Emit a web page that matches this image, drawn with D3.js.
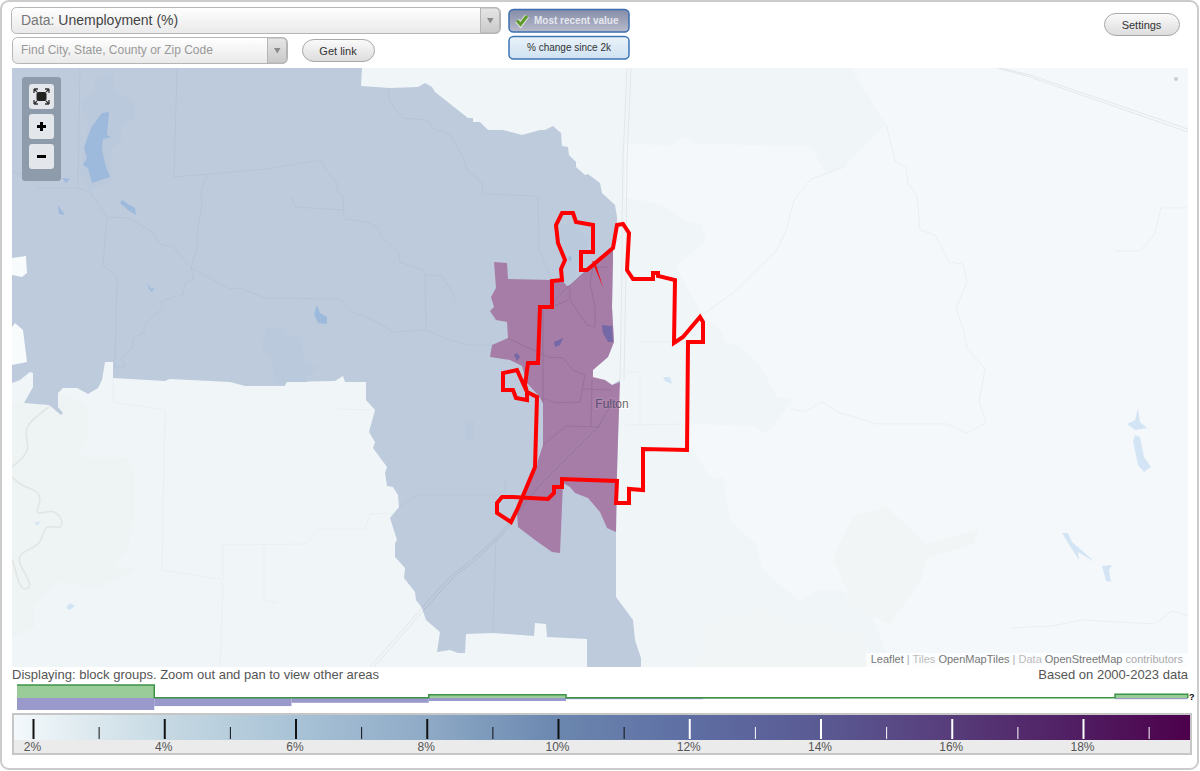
<!DOCTYPE html>
<html>
<head>
<meta charset="utf-8">
<title>Unemployment (%)</title>
<script src="https://cdn.jsdelivr.net/npm/d3@7"></script>
<style>
  html, body { margin: 0; padding: 0; background: #fff; overflow: hidden; }
  svg { display: block; font-family: "Liberation Sans", Arial, sans-serif; }
  .axis-scale .domain { display: none; }
</style>
</head>
<body>
<svg id="chart" width="1200" height="771"></svg>
<script>
// legend: value scale and colour ramp
const majorTicks = [2, 4, 6, 8, 10, 12, 14, 16, 18];
const minorTicks = [3, 5, 7, 9, 11, 13, 15, 17, 19];
const rampValues = [1.7, 2, 4, 6, 8, 10, 12, 14, 16, 18, 19.65];
const rampColors = ["#f3f8fb", "#eef5f8", "#c6d9e3", "#a8c2d6", "#8eaac6", "#6b87af", "#5e6ea3", "#5a5a93", "#573c7a", "#501c61", "#4d004b"];

// distribution strip above the legend (share of areas per bin)
const binEdges = [0, 1, 2, 3, 4, 5, 6, 7, 8, 8.53];
const selectedShare = [43, 1, 1, 11, 1, 1, 1, 1, 12];
const nationalShare = [40, 27, 16, 10, 4, 2, 0, 0, 4];

// map shapes, in map pixel units
const blockGroups = [[362,68],[361,86],[390,88],[418,87],[425,83],[432,87],[435,92],[468,118],[473,118],[473,122],[480,122],[488,130],[503,130],[522,135],[540,130],[545,130],[553,126],[561,133],[562,146],[568,147],[569,155],[576,162],[576,167],[585,175],[588,174],[600,183],[602,193],[615,205],[617,217],[617,227],[613,248],[613,260],[612,307],[614,342],[608,357],[593,370],[592,378],[605,380],[612,385],[620,380],[619,390],[617,480],[616,532],[616,597],[633,620],[635,640],[641,658],[641,667],[587,667],[587,639],[547,637],[546,624],[535,623],[534,636],[493,633],[466,634],[465,653],[458,653],[450,650],[437,652],[440,632],[426,620],[422,608],[416,600],[415,592],[404,578],[405,568],[395,557],[395,543],[397,540],[390,518],[399,507],[398,495],[393,487],[387,486],[385,473],[387,467],[373,448],[375,442],[369,432],[375,410],[366,400],[366,382],[345,382],[343,376],[335,381],[285,382],[285,386],[245,386],[230,382],[170,379],[165,381],[113,378],[113,362],[105,362],[102,380],[98,388],[88,394],[77,388],[63,388],[58,393],[58,407],[63,413],[61,415],[49,405],[24,403],[33,387],[33,373],[30,372],[20,380],[12,383],[12,365],[27,362],[23,330],[15,323],[12,327],[12,275],[22,277],[27,273],[26,256],[12,258],[12,68]];
const highlighted = [[613,246],[570,285],[567,286],[562,280],[552,280],[508,279],[507,263],[494,262],[496,288],[491,297],[494,307],[490,311],[496,320],[507,322],[508,338],[492,345],[490,357],[510,360],[522,366],[527,383],[538,395],[543,403],[543,445],[538,460],[537,467],[522,495],[517,513],[518,527],[535,540],[552,552],[560,553],[563,483],[570,487],[575,493],[588,498],[600,512],[607,528],[616,532],[617,470],[620,382],[612,385],[605,380],[593,377],[593,370],[608,357],[614,342],[612,307],[613,260]];
const cityOutline = [[562,213],[573,213],[576,222],[593,225],[593,252],[581,252],[581,270],[587,270],[613,248],[617,225],[623,224],[629,233],[627,270],[633,279],[653,279],[653,273],[658,273],[658,276],[675,280],[674,343],[683,337],[700,317],[703,322],[703,342],[688,342],[687,450],[643,449],[643,490],[629,489],[629,503],[616,503],[617,481],[562,479],[562,487],[554,487],[554,493],[548,499],[513,497],[502,497],[497,503],[497,513],[511,522],[517,510],[535,467],[537,397],[527,392],[527,400],[516,398],[513,390],[503,390],[503,373],[517,370],[527,392],[525,385],[528,363],[538,363],[540,307],[552,307],[552,281],[562,280],[561,269],[565,260],[558,243],[556,225],[562,213]];
const citySpike = [[592,261],[603,287],[595,262]];

const tintAreas = [
  [[12,68],[625,68],[625,667],[12,667]],
  [[620,68],[851,68],[886,124],[844,167],[826,175],[811,146],[697,144],[683,136],[672,146],[640,144],[620,144]],
  [[620,197],[640,200],[665,206],[683,220],[702,225],[706,241],[676,266],[702,315],[722,332],[724,342],[740,346],[761,367],[777,397],[794,399],[786,408],[774,426],[765,434],[754,426],[686,424],[620,424]],
  [[620,424],[686,424],[688,443],[711,478],[724,478],[726,500],[731,521],[756,544],[763,570],[799,601],[819,589],[844,591],[854,609],[872,616],[886,651],[897,667],[620,667]]
];
const paleNotches = [
  [[12,258],[26,256],[27,273],[22,277],[12,275]],
  [[12,327],[15,323],[23,330],[27,362],[12,365]]
];
const forestAreas = [
  [[58,393],[87,405],[88,440],[77,457],[127,458],[135,473],[135,513],[128,547],[115,565],[135,570],[97,588],[55,582],[35,607],[35,627],[12,637],[12,403]],
  [[854,515],[886,507],[926,544],[979,529],[974,544],[926,558],[922,578],[890,624],[854,609],[833,558]],
  [[708,624],[761,609],[794,624],[833,628],[861,630],[872,667],[697,667]]
];
const urbanPatches = [
  [[265,327],[283,327],[285,335],[300,337],[305,363],[318,367],[308,375],[307,382],[287,382],[285,385],[275,382],[272,357],[262,350],[262,340],[267,335]],
  [[82,100],[97,90],[93,80],[113,73],[115,93],[135,102],[135,118],[122,127],[122,140],[112,148],[110,157],[112,180],[90,190],[80,173],[88,123],[82,110]],
  [[465,420],[475,420],[475,440],[465,440]],
  [[560,225],[572,222],[578,232],[590,237],[585,250],[578,260],[575,275],[568,285],[562,278],[562,262],[566,250],[560,235]]
];
const lakesOnBlue = [
  [[102,113],[109,112],[107,135],[111,137],[103,139],[102,150],[106,167],[110,177],[92,183],[88,168],[83,165],[87,158],[84,148],[91,128],[98,118]],
  [[62,178],[70,179],[66,183]],
  [[122,200],[128,204],[135,208],[136,215],[128,210],[120,203]],
  [[58,205],[65,215],[59,214]],
  [[147,283],[151,289],[155,287],[152,291],[153,293],[149,289]],
  [[317,305],[320,313],[327,317],[327,324],[318,323],[314,314]],
  [[570,255],[572,259],[570,262],[568,258]]
];
const lakesOnHighlight = [
  [[602,325],[612,326],[613,342],[608,342],[603,333]],
  [[554,342],[563,338],[560,345],[555,347]],
  [[514,355],[517,353],[520,357],[517,361]]
];
const lakesOnBase = [
  [[1138,408],[1140,422],[1147,428],[1135,430],[1127,424],[1135,420]],
  [[1135,435],[1140,437],[1144,457],[1151,467],[1144,472],[1138,465],[1133,441]],
  [[1062,533],[1068,533],[1072,542],[1095,562],[1078,552],[1079,560],[1070,546]],
  [[1102,566],[1112,565],[1109,570],[1111,582],[1106,581]],
  [[663,377],[670,377],[672,384],[665,381]],
  [[70,603],[75,606],[70,610],[66,608]],
  [[34,523],[40,521],[38,526]]
];
const blueBoundaries = [
  [[177,68],[174,177],[208,174],[268,169],[313,161],[321,161],[330,175],[337,183],[337,192],[343,195],[344,219],[367,222],[377,227],[382,237],[398,252],[400,262],[423,270],[425,275],[442,276],[451,290],[455,302]],
  [[425,275],[426,330],[450,340],[470,345],[492,345]],
  [[208,174],[203,185],[201,192],[202,203],[197,233],[197,247],[191,268],[194,279],[185,283],[183,295],[173,297],[160,302],[163,308],[152,317],[144,325],[144,333],[133,338],[133,347],[122,358],[125,367],[113,367]],
  [[90,192],[107,217],[128,218],[153,232],[160,244],[173,247],[191,268],[213,280],[230,289],[240,288],[265,298],[340,299],[353,312],[377,322],[393,332],[425,330]],
  [[107,217],[103,265],[117,277],[115,367]],
  [[292,197],[295,207],[343,210]],
  [[388,88],[390,102],[403,118],[427,120],[433,128],[450,135],[463,157],[467,170],[482,182],[483,194],[538,196],[539,250],[552,280]],
  [[80,68],[78,188],[37,188],[37,177],[12,172]],
  [[78,188],[90,192]],
  [[399,507],[417,495],[497,495],[505,490],[505,480]],
  [[496,538],[493,633]]
];
const highlightBoundaries = [
  [[570,287],[570,300],[587,325],[595,327],[595,307],[590,283],[593,267],[607,267]],
  [[568,300],[552,307]],
  [[508,338],[537,352],[548,357],[563,358],[573,370],[585,375],[582,390],[580,402],[555,403],[543,398]],
  [[582,389],[612,390]],
  [[543,445],[566,426],[600,427]],
  [[592,380],[591,427]],
  [[543,310],[543,403]]
];
const faintBoundaries = [
  [[113,378],[113,402],[165,410],[162,570],[220,579],[223,585],[220,667]],
  [[223,580],[223,545],[305,544],[320,529],[365,529],[370,514],[395,513]],
  [[264,545],[264,600],[277,603]],
  [[338,409],[372,410]],
  [[886,124],[895,161],[906,167],[908,183],[917,196],[920,230],[935,235],[949,262],[963,264],[967,282],[956,309],[963,328],[967,348],[985,369],[979,402],[986,423],[967,433],[947,424],[876,424],[838,412],[822,402],[804,412],[790,408]],
  [[702,315],[733,293],[776,251],[786,231],[794,200],[811,179],[844,167]],
  [[1011,628],[1051,626],[1083,620],[1154,624],[1172,611],[1188,616]],
  [[1115,251],[1140,251],[1154,235],[1161,208],[1188,208]],
  [[625,425],[686,424]],
  [[640,342],[690,342]],
  [[627,372],[640,372],[640,424]]
];
const riverCourses = [
  [[49,407],[20,428],[33,450],[12,467]],
  [[12,477],[23,487],[37,490],[42,500],[33,517],[53,508],[63,520],[62,530],[43,523],[43,545],[20,552],[17,563],[35,587],[20,592],[15,567],[12,560]]
];
const railMain = [
  [[370,667],[422,608],[435,593],[452,575],[468,563],[497,537],[510,522],[538,487],[598,427],[614,400]],
  [[374,667],[426,608],[439,593],[456,575],[472,563],[500,537],[513,522]]
];
const railOther = [
  [[627,68],[623,160],[622,240],[622,267],[620,380]],
  [[631,68],[627,160],[626,240],[626,267],[624,380]],
  [[997,68],[1027,76],[1188,132]],
  [[1000,68],[1030,75],[1188,129]],
  [[625,232],[613,246]]
];
const railTown = [[[613,246],[570,285],[545,310]]];

const svg = d3.select("#chart");
const defs = svg.append("defs");

function vGradient(id, top, bottom) {
  const g = defs.append("linearGradient").attr("id", id).attr("x1", 0).attr("x2", 0).attr("y1", 0).attr("y2", 1);
  g.append("stop").attr("offset", "0%").attr("stop-color", top);
  g.append("stop").attr("offset", "100%").attr("stop-color", bottom);
}
vGradient("gSelect", "#ffffff", "#e9e9e9");
vGradient("gArrow", "#e6e6e6", "#c9c9c9");
vGradient("gPill", "#fbfbfb", "#dcdcdc");
vGradient("gActive", "#858ca8", "#b8bbcb");
vGradient("gToggle", "#eaf2f9", "#cfe2f2");

// page frame
svg.append("rect").attr("x", 1).attr("y", 1).attr("width", 1197).attr("height", 768)
  .attr("rx", 8).attr("fill", "#fff").attr("stroke", "#cccccc").attr("stroke-width", 2);

// ---- map ----
const mapW = 1176, mapH = 599;
const xMap = d3.scaleLinear().domain([12, 1188]).range([0, mapW]);
const yMap = d3.scaleLinear().domain([68, 667]).range([0, mapH]);
const shape = d3.line().x((d) => xMap(d[0])).y((d) => yMap(d[1]));
const smooth = d3.line().x((d) => xMap(d[0])).y((d) => yMap(d[1])).curve(d3.curveBasis);
const closed = (pts) => shape(pts) + "Z";

defs.append("clipPath").attr("id", "mapClip").append("rect").attr("width", mapW).attr("height", mapH);
defs.append("clipPath").attr("id", "hlClip").append("path").attr("d", closed(highlighted));
defs.append("clipPath").attr("id", "blueClip").append("path").attr("d", closed(blockGroups));
const map = svg.append("g").attr("transform", "translate(12,68)").attr("clip-path", "url(#mapClip)");

function fills(data, color) {
  return map.append("g").selectAll("path").data(data).join("path").attr("d", closed).attr("fill", color);
}
function strokes(data, color, width, clip) {
  const g = map.append("g");
  if (clip) g.attr("clip-path", `url(#${clip})`);
  g.selectAll("path").data(data).join("path").attr("d", shape)
    .attr("fill", "none").attr("stroke", color).attr("stroke-width", width).attr("stroke-linejoin", "round");
}

map.append("rect").attr("width", mapW).attr("height", mapH).attr("fill", "#f5f8fa");
fills(tintAreas, "#f0f5f8");
fills(paleNotches, "#f8fbfc");
fills(forestAreas.slice(0, 1), "#eef4f3");
fills(forestAreas.slice(1), "#f1f5f5");
strokes(faintBoundaries, "#e9eff2", 1);
map.append("g").selectAll("path").data(riverCourses).join("path").attr("d", smooth)
  .attr("fill", "none").attr("stroke", "#e0e5e5").attr("stroke-width", 1.6);
fills(lakesOnBase, "#d3e5f4");
map.append("circle").attr("cx", xMap(1176)).attr("cy", yMap(79)).attr("r", 2).attr("fill", "#c9cdd0");
strokes(railMain.concat(railOther), "#e2e7ea", 1);

map.append("path").attr("d", closed(blockGroups)).attr("fill", "#bdcbdd");
fills(urbanPatches, "#bac9db");
strokes(blueBoundaries, "#b5c5d8", 1);
fills(lakesOnBlue, "#9db9dc");
strokes(railMain, "#aebccd", 1, "blueClip");

// town label sits under the semi transparent highlight
map.append("text").attr("x", xMap(612)).attr("y", yMap(408)).attr("text-anchor", "middle")
  .attr("font-size", 12).attr("fill", "#6a6a70").attr("stroke", "#fff").attr("stroke-width", 2.5)
  .attr("paint-order", "stroke").text("Fulton");

map.append("path").attr("d", closed(highlighted)).attr("fill", "#a2709c").attr("fill-opacity", 0.85);
map.append("text").attr("x", xMap(612)).attr("y", yMap(408)).attr("text-anchor", "middle")
  .attr("clip-path", "url(#hlClip)").attr("font-size", 12).attr("fill", "#5b5578").text("Fulton");
strokes(highlightBoundaries, "#96729a", 1);
strokes(railMain.concat(railTown), "#93759b", 1, "hlClip");
fills(lakesOnHighlight, "#7468a6");

map.append("path").attr("d", closed(cityOutline)).attr("fill", "none").attr("stroke", "#ff0000")
  .attr("stroke-width", 4).attr("stroke-linejoin", "miter").attr("stroke-miterlimit", 3);
map.append("path").attr("d", closed(citySpike)).attr("fill", "#ff0000");

// attribution
const credit = svg.append("g");
credit.append("rect").attr("x", 866).attr("y", 653).attr("width", 322).attr("height", 14).attr("fill", "#fff").attr("fill-opacity", 0.7);
const creditText = credit.append("text").attr("x", 1183).attr("y", 663).attr("text-anchor", "end").attr("font-size", 11);
[["Leaflet", "#777"], [" | ", "#aaa"], ["Tiles ", "#bbb"], ["OpenMapTiles", "#777"], [" | ", "#aaa"], ["Data ", "#bbb"], ["OpenStreetMap", "#777"], [" contributors", "#aaa"]]
  .forEach(([t, c]) => creditText.append("tspan").attr("fill", c).attr("xml:space", "preserve").text(t));

// zoom control
const zoomBox = svg.append("g");
zoomBox.append("rect").attr("x", 22).attr("y", 77).attr("width", 39).attr("height", 104).attr("rx", 3).attr("fill", "#8d9bab");
[84, 114, 144].forEach((y) => {
  zoomBox.append("rect").attr("x", 29).attr("y", y).attr("width", 25).attr("height", 25).attr("rx", 3).attr("fill", "#e3e6ea");
});
zoomBox.append("rect").attr("x", 36.5).attr("y", 92).attr("width", 10).attr("height", 9).attr("rx", 2).attr("fill", "#222");
[[34, 89, 1, 1], [49, 89, -1, 1], [34, 104, 1, -1], [49, 104, -1, -1]].forEach(([x, y, sx, sy]) => {
  zoomBox.append("path").attr("d", `M${x},${y}h${4 * sx}M${x},${y}v${4 * sy}M${x},${y}l${3 * sx},${3 * sy}`)
    .attr("stroke", "#333").attr("stroke-width", 1.3).attr("fill", "none");
});
zoomBox.append("path").attr("d", "M41.5,122v9M37,126.5h9").attr("stroke", "#000").attr("stroke-width", 3).attr("fill", "none");
zoomBox.append("path").attr("d", "M37,156.5h9").attr("stroke", "#000").attr("stroke-width", 3).attr("fill", "none");

// ---- top controls ----
function combo(x, y, w, h, arrowW) {
  svg.append("rect").attr("x", x + 0.5).attr("y", y + 0.5).attr("width", w).attr("height", h).attr("rx", 5)
    .attr("fill", "url(#gSelect)").attr("stroke", "#b5b5b5");
  svg.append("path").attr("d", `M${x + w - arrowW + 0.5},${y + 1}h${arrowW - 5}q4,0 4,4v${h - 9}q0,4 -4,4h${5 - arrowW}z`)
    .attr("fill", "url(#gArrow)").attr("stroke", "#b5b5b5");
  const cx = x + w - arrowW / 2, cy = y + h / 2 + 0.5;
  svg.append("path").attr("d", `M${cx - 3},${cy - 2.5}h6.5l-3.2,5.5z`).attr("fill", "#8a8a8a");
}
combo(11, 7, 489, 26, 20);
combo(12, 37, 275, 26, 20);

const dataText = svg.append("text").attr("x", 21).attr("y", 25).attr("font-size", 14);
dataText.append("tspan").attr("fill", "#777").text("Data: ");
dataText.append("tspan").attr("fill", "#444").text("Unemployment (%)");
svg.append("text").attr("x", 21).attr("y", 54).attr("font-size", 12).attr("fill", "#999").text("Find City, State, County or Zip Code");

function pill(x, y, w, h, label) {
  svg.append("rect").attr("x", x + 0.5).attr("y", y + 0.5).attr("width", w).attr("height", h).attr("rx", 11.5)
    .attr("fill", "url(#gPill)").attr("stroke", "#a8a8a8");
  svg.append("text").attr("x", x + w / 2).attr("y", y + h / 2 + 4.5).attr("text-anchor", "middle")
    .attr("font-size", 11).attr("fill", "#333").text(label);
}
pill(302, 39, 72, 22, "Get link");
pill(1104, 13, 75, 22, "Settings");

svg.append("rect").attr("x", 509).attr("y", 9.5).attr("width", 120).attr("height", 22.5).attr("rx", 4.5)
  .attr("fill", "url(#gActive)").attr("stroke", "#3a6eb0").attr("stroke-width", 1.5);
svg.append("text").attr("x", 534).attr("y", 24).attr("font-size", 10).attr("font-weight", "bold").attr("fill", "#e6e8ee").text("Most recent value");
svg.append("path").attr("d", "M517,20.5l3.5,4l6.5,-8.5").attr("fill", "none").attr("stroke", "#dfe3e0").attr("stroke-width", 5);
svg.append("path").attr("d", "M517,20.5l3.5,4l6.5,-8.5").attr("fill", "none").attr("stroke", "#5f9a2a").attr("stroke-width", 3);
svg.append("rect").attr("x", 509).attr("y", 36.5).attr("width", 120).attr("height", 22.5).attr("rx", 4.5)
  .attr("fill", "url(#gToggle)").attr("stroke", "#3a76b6").attr("stroke-width", 1.5);
svg.append("text").attr("x", 569).attr("y", 51).attr("text-anchor", "middle").attr("font-size", 10).attr("fill", "#333").text("% change since 2k");

// ---- captions ----
svg.append("text").attr("x", 12).attr("y", 679).attr("font-size", 13).attr("fill", "#555")
  .text("Displaying: block groups. Zoom out and pan to view other areas");
svg.append("text").attr("x", 1188).attr("y", 679).attr("text-anchor", "end").attr("font-size", 13).attr("fill", "#555")
  .text("Based on 2000-2023 data");

// ---- distribution strip ----
const xBin = d3.scaleLinear().domain([0, 8]).range([17, 1115]);
const hStrip = d3.scaleLinear().domain([0, 43]).range([0, 13]);
const hNat = d3.scaleLinear().domain([0, 40]).range([0, 12]);
const baseY = 698;
const bins = selectedShare.map((v, i) => ({ i, up: v, down: nationalShare[i], x0: binEdges[i], x1: binEdges[i + 1] }));

svg.append("g").selectAll("rect").data(bins).join("rect")
  .attr("x", (d) => xBin(d.x0)).attr("width", (d) => xBin(d.x1) - xBin(d.x0))
  .attr("y", baseY).attr("height", (d) => hNat(d.down)).attr("fill", "#9999cc");
svg.append("g").selectAll("rect").data(bins).join("rect")
  .attr("x", (d) => xBin(d.x0)).attr("width", (d) => xBin(d.x1) - xBin(d.x0))
  .attr("y", (d) => baseY - hStrip(d.up)).attr("height", (d) => hStrip(d.up))
  .attr("fill", "#99cc99");
const stepLine = d3.line().x((d) => xBin(d[0])).y((d) => baseY - hStrip(d[1]));
const stepPts = bins.flatMap((d) => [[d.x0, d.up], [d.x1, d.up]]);
svg.append("path").attr("d", stepLine(stepPts.concat([[8.53, 0]]))).attr("fill", "none")
  .attr("stroke", "#3d9446").attr("stroke-width", 1.5);
svg.append("text").attr("x", 1189).attr("y", 700).attr("font-size", 9).attr("font-weight", "bold").attr("fill", "#000").text("?");

// ---- colour legend ----
const xLegend = d3.scaleLinear().domain([2, 18]).range([33, 1083]);
const barX0 = 14, barX1 = 1190;
const ramp = defs.append("linearGradient").attr("id", "ramp").attr("gradientUnits", "userSpaceOnUse")
  .attr("x1", barX0).attr("x2", barX1).attr("y1", 0).attr("y2", 0);
rampValues.forEach((v, i) => {
  ramp.append("stop").attr("offset", (xLegend(v) - barX0) / (barX1 - barX0)).attr("stop-color", rampColors[i]);
});
svg.append("rect").attr("x", 13).attr("y", 714).attr("width", 1178).attr("height", 40).attr("fill", "#ebebeb")
  .attr("stroke", "#c6c6c6").attr("stroke-width", 2);
svg.append("rect").attr("x", barX0).attr("y", 715).attr("width", barX1 - barX0).attr("height", 25).attr("fill", "url(#ramp)");

const tickColor = (d) => (d >= 12 ? "#fff" : "#111");
const majorAxis = svg.append("g").attr("class", "axis-scale").attr("transform", "translate(0,739)")
  .call(d3.axisBottom(xLegend).tickValues(majorTicks).tickFormat((d) => d + "%").tickSizeInner(-20).tickSizeOuter(0).tickPadding(3.5));
majorAxis.selectAll(".tick line").attr("stroke", tickColor).attr("stroke-width", 2);
majorAxis.selectAll(".tick text").attr("fill", "#555").attr("font-size", 12).attr("font-family", "Liberation Sans").attr("dx", -1);
const minorAxis = svg.append("g").attr("class", "axis-scale").attr("transform", "translate(0,739)")
  .call(d3.axisBottom(xLegend).tickValues(minorTicks).tickFormat("").tickSizeInner(-12).tickSizeOuter(0));
minorAxis.selectAll(".tick line").attr("stroke", tickColor).attr("stroke-width", 1);
</script>
</body>
</html>
